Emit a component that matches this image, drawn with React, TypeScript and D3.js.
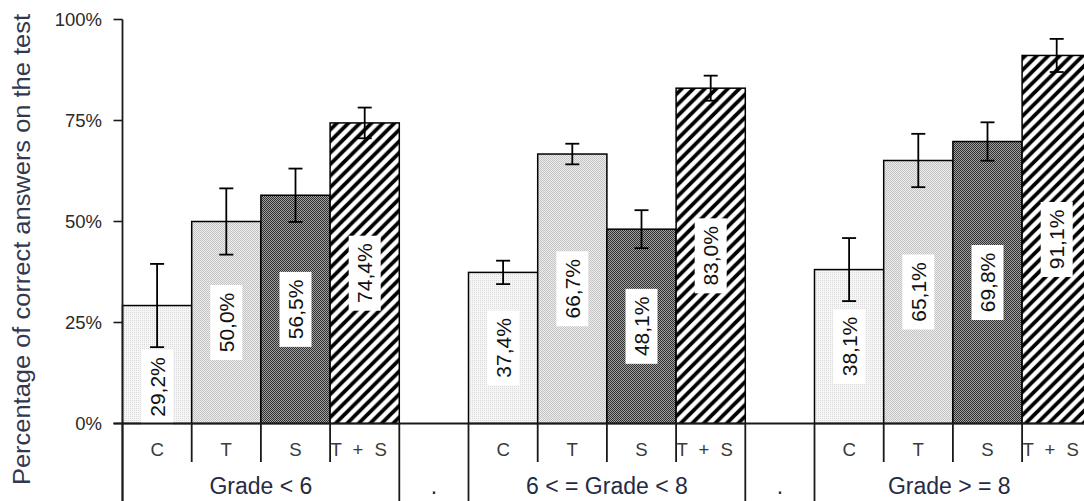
import React from "react";
import * as d3 from "d3";

// ---- data ----
const groups = ["Grade < 6", "6 < = Grade < 8", "Grade > = 8"];
const subcats = ["C", "T", "S", "T + S"];
const gapLabel = ".";
const valuesLt6 = [29.2, 50.0, 56.5, 74.4];
const values6to8 = [37.4, 66.7, 48.1, 83.0];
const valuesGe8 = [38.1, 65.1, 69.8, 91.1];
const errLt6 = [10.3, 8.2, 6.6, 3.8];
const err6to8 = [2.9, 2.55, 4.7, 3.1];
const errGe8 = [7.8, 6.6, 4.75, 4.1];
const yTicks = [0, 25, 50, 75, 100];
const yTitle = "Percentage of correct answers on the test";

const W = 1084;
const H = 501;
const FONT = "'Liberation Sans', Arial, sans-serif";

const groupValues = [valuesLt6, values6to8, valuesGe8];
const groupErrors = [errLt6, err6to8, errGe8];
const patternIds = ["patC", "patT", "patS", "patTS"];

type Slot = { key: string; group: number; sub: number; value?: number; err?: number };
const slots: Slot[] = [];
groups.forEach((g, gi) => {
  subcats.forEach((s, si) =>
    slots.push({ key: `${gi}|${s}`, group: gi, sub: si, value: groupValues[gi][si], err: groupErrors[gi][si] })
  );
  if (gi < groups.length - 1) slots.push({ key: `gap${gi}`, group: -1, sub: -1 });
});

const x0 = 122.5;
const slotW = 69.2;
const x = d3.scaleBand<string>().domain(slots.map((s) => s.key)).range([x0, x0 + slots.length * slotW]).padding(0);
const y = d3.scaleLinear().domain([0, 100]).range([423.5, 19.5]);
const bw = x.bandwidth();
const fmt = (v: number) => v.toFixed(1).replace(".", ",") + "%";

export default function App() {
  const axisY = y(0);
  const row1Bottom = 462;
  const lineColor = "#1a1a1a";
  const labelBoxH = 75;
  const labelBoxW = 32;

  const fullLines: number[] = [x0];
  groups.forEach((_, gi) => {
    const last = x(`${gi}|${subcats[subcats.length - 1]}`)! + bw;
    fullLines.push(last);
    if (gi < groups.length - 1) fullLines.push(x(`gap${gi}`)! + bw);
  });

  return (
    <svg
      width={W}
      height={H}
      style={{ position: "absolute", left: 0, top: 0, background: "#fff" }}
      fontFamily={FONT}
    >
      <defs>
        <pattern id="patC" width={2} height={2} patternUnits="userSpaceOnUse">
          <rect width={2} height={2} fill="#f6f6f6" />
          <rect width={1} height={1} fill="#dadada" />
        </pattern>
        <pattern id="patT" width={2} height={2} patternUnits="userSpaceOnUse">
          <rect width={2} height={2} fill="#ececec" />
          <rect width={1} height={1} fill="#c4c4c4" />
          <rect x={1} y={1} width={1} height={1} fill="#c4c4c4" />
        </pattern>
        <pattern id="patS" width={2} height={2} patternUnits="userSpaceOnUse">
          <rect width={2} height={2} fill="#a0a0a0" />
          <rect width={1} height={1} fill="#303030" />
          <rect x={1} y={1} width={1} height={1} fill="#303030" />
        </pattern>
        <pattern id="patTS" width={11.5} height={11.5} patternUnits="userSpaceOnUse">
          <rect width={11.5} height={11.5} fill="#fff" />
          <path d="M-3,3 L3,-3 M0,11.5 L11.5,0 M8.5,14.5 L14.5,8.5" stroke="#000" strokeWidth={3.8} />
        </pattern>
        <clipPath id="clipAll">
          <rect x={0} y={0} width={W} height={H} />
        </clipPath>
      </defs>

      <g clipPath="url(#clipAll)">
        {/* y axis title */}
        <text
          transform={`translate(29.5, 249.5) rotate(-90)`}
          textAnchor="middle"
          fontSize={23.5}
          fill="#333850"
          textLength={471}
          lengthAdjust="spacingAndGlyphs"
        >
          {yTitle}
        </text>

        {/* y ticks */}
        {yTicks.map((t) => (
          <g key={t}>
            <line x1={113.5} x2={x0} y1={y(t)} y2={y(t)} stroke={lineColor} strokeWidth={1.6} />
            <text x={102} y={y(t) + 6.6} textAnchor="end" fontSize={18.5} fill="#2a2a2a">
              {`${t}%`}
            </text>
          </g>
        ))}

        {/* bars */}
        {slots
          .filter((s) => s.value !== undefined)
          .map((s) => (
            <rect
              key={s.key}
              x={x(s.key)!}
              y={y(s.value!)}
              width={bw}
              height={axisY - y(s.value!)}
              fill={`url(#${patternIds[s.sub]})`}
              stroke="#000"
              strokeWidth={1.5}
            />
          ))}

        {/* error bars */}
        {slots
          .filter((s) => s.value !== undefined)
          .map((s) => {
            const cx = x(s.key)! + bw / 2;
            const top = y(s.value! + s.err!);
            const bot = y(s.value! - s.err!);
            return (
              <g key={"e" + s.key} stroke="#000" strokeWidth={1.8}>
                <line x1={cx} x2={cx} y1={top} y2={bot} />
                <line x1={cx - 7} x2={cx + 7} y1={top} y2={top} />
                <line x1={cx - 7} x2={cx + 7} y1={bot} y2={bot} />
              </g>
            );
          })}

        {/* value labels */}
        {slots
          .filter((s) => s.value !== undefined)
          .map((s) => {
            const cx = x(s.key)! + bw / 2;
            const mid = (y(s.value!) + axisY) / 2;
            const errBot = y(s.value! - s.err!);
            let cy = mid;
            if (mid - labelBoxH / 2 < errBot + 4) cy = errBot + 4 + labelBoxH / 2;
            cy = Math.min(cy, axisY - labelBoxH / 2 + 1);
            return (
              <g key={"l" + s.key}>
                <rect x={cx - labelBoxW / 2} y={cy - labelBoxH / 2} width={labelBoxW} height={labelBoxH} fill="#fff" />
                <text
                  transform={`translate(${cx + 7.5}, ${cy}) rotate(-90)`}
                  textAnchor="middle"
                  fontSize={21}
                  fill="#111"
                >
                  {fmt(s.value!)}
                </text>
              </g>
            );
          })}

        {/* x axis line */}
        <line x1={113.5} x2={W} y1={axisY} y2={axisY} stroke={lineColor} strokeWidth={1.8} />
        {/* y axis line */}
        <line x1={x0} x2={x0} y1={y(100)} y2={H} stroke={lineColor} strokeWidth={1.8} />

        {/* table: inner separators in row 1 */}
        {slots
          .filter((s) => s.value !== undefined && s.sub > 0)
          .map((s) => (
            <line
              key={"s" + s.key}
              x1={x(s.key)!}
              x2={x(s.key)!}
              y1={axisY}
              y2={row1Bottom}
              stroke={lineColor}
              strokeWidth={1.8}
            />
          ))}
        {fullLines.map((lx, i) => (
          <line key={"f" + i} x1={lx} x2={lx} y1={axisY} y2={H} stroke={lineColor} strokeWidth={1.8} />
        ))}

        {/* row 1 labels */}
        {slots
          .filter((s) => s.value !== undefined)
          .map((s) => (
            <text
              key={"c" + s.key}
              x={x(s.key)! + bw / 2 + (s.sub === 3 ? -6 : 0)}
              y={456}
              textAnchor="middle"
              fontSize={18.6}
              fill="#3a3a3a"
              style={s.sub === 3 ? { wordSpacing: "6px" } : undefined}
            >
              {subcats[s.sub]}
            </text>
          ))}

        {/* row 2 group labels */}
        {groups.map((g, gi) => {
          const left = x(`${gi}|${subcats[0]}`)!;
          const right = Math.min(W, x(`${gi}|${subcats[subcats.length - 1]}`)! + bw);
          return (
            <text key={g} x={(left + right) / 2} y={494} textAnchor="middle" fontSize={23} fill="#262b45">
              {g}
            </text>
          );
        })}
        {slots
          .filter((s) => s.group === -1)
          .map((s) => (
            <text key={"g" + s.key} x={x(s.key)! + bw / 2} y={494} textAnchor="middle" fontSize={23} fill="#262b45">
              {gapLabel}
            </text>
          ))}
      </g>
    </svg>
  );
}
